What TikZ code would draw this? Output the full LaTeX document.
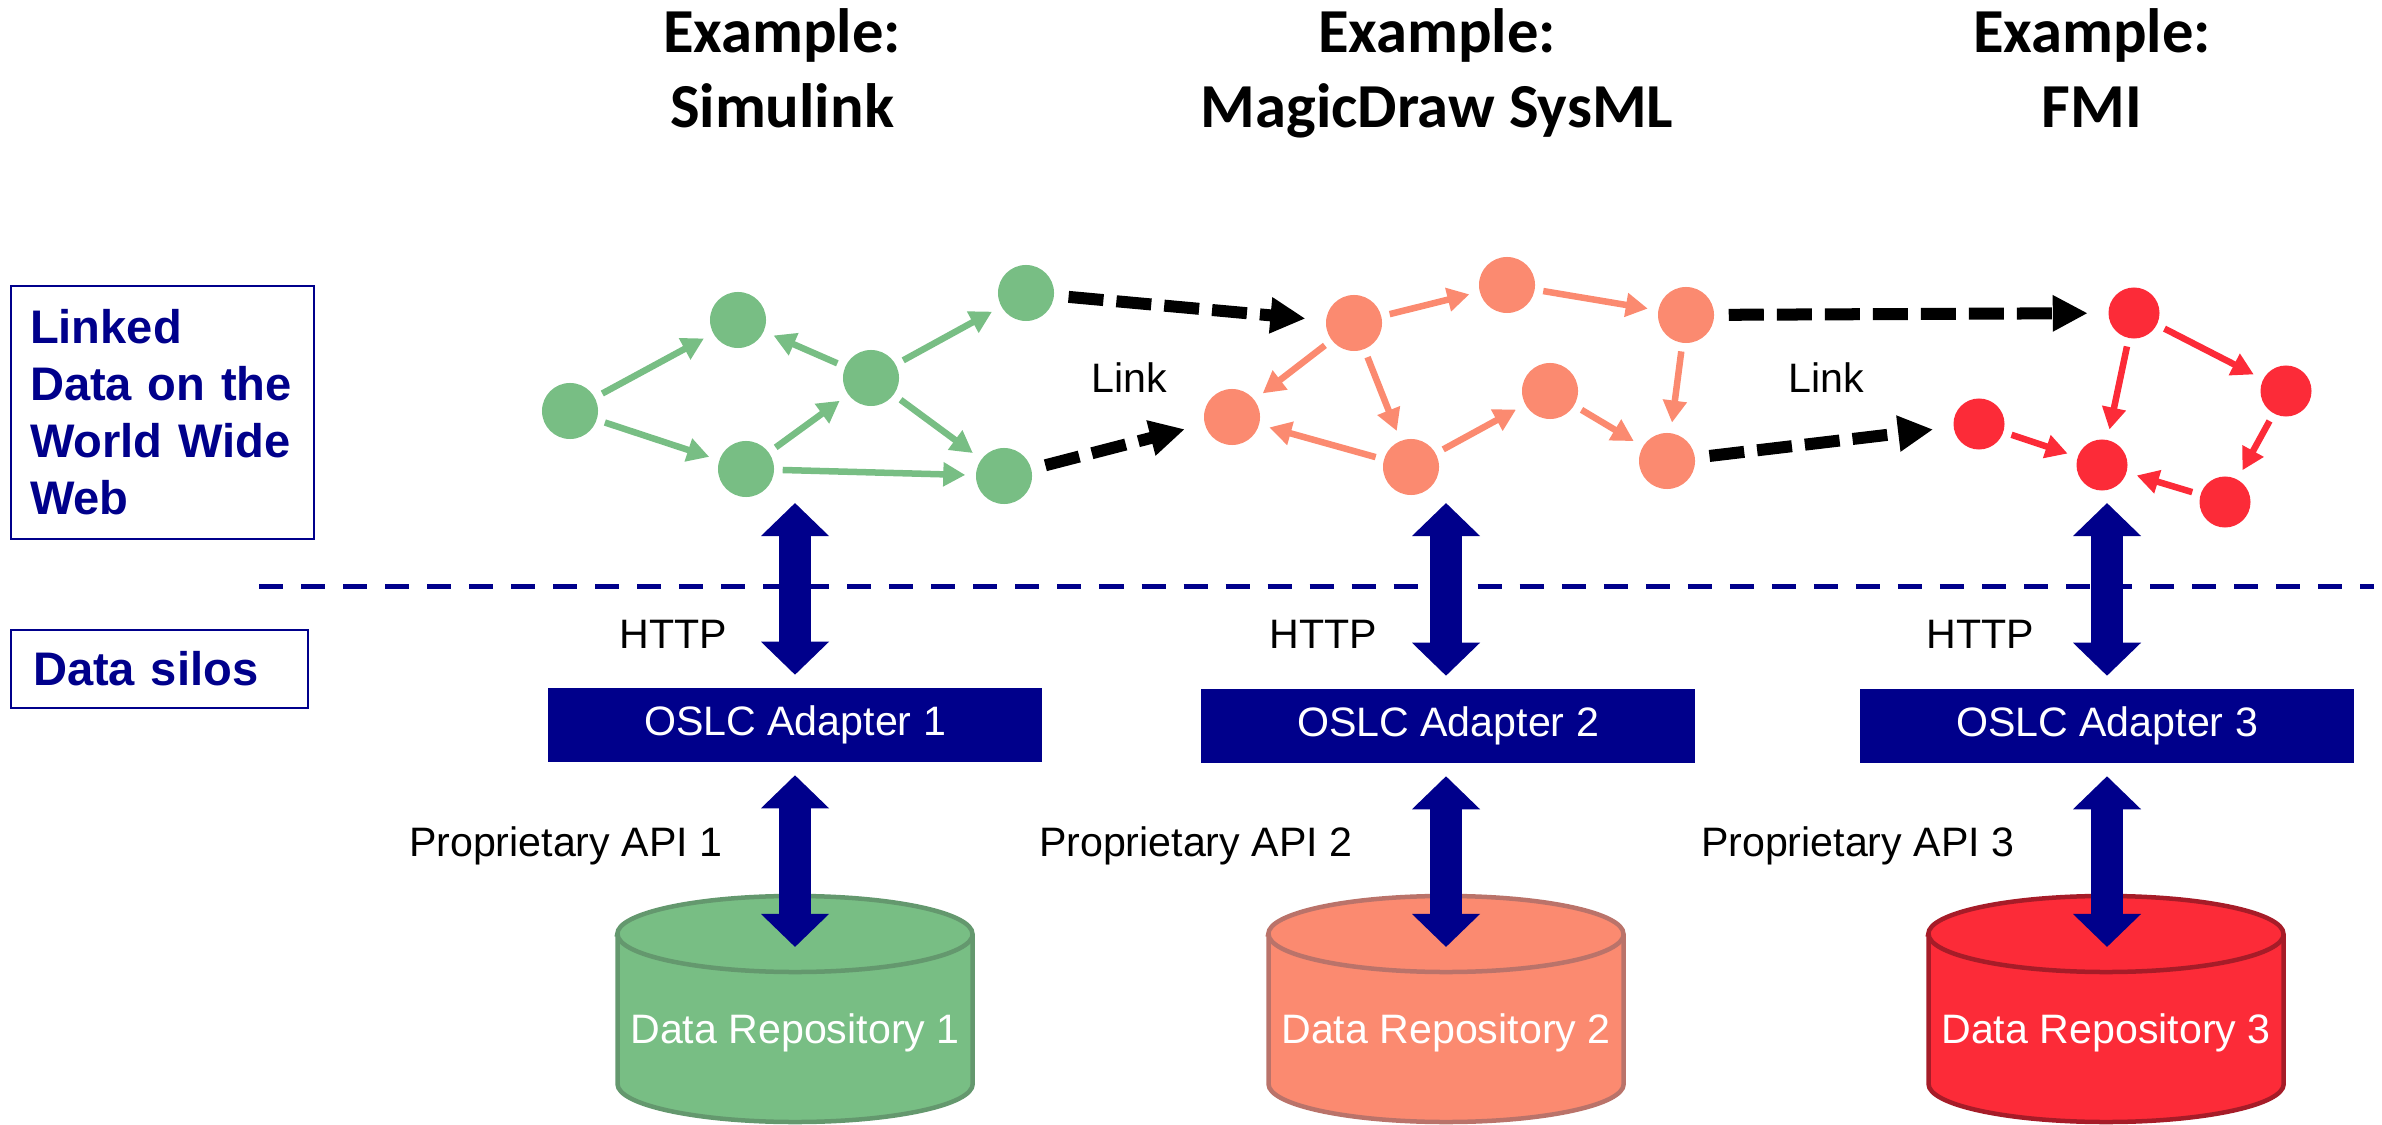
\documentclass[tikz,border=0pt]{standalone}
\usepackage{fontspec}
\setmainfont{Liberation Sans}
\newfontfamily\titlefont{Carlito}
\usetikzlibrary{arrows.meta}
\definecolor{navy}{RGB}{0,0,139}
\definecolor{gfill}{RGB}{120,190,132}
\definecolor{gline}{RGB}{100,152,110}
\definecolor{sfill}{RGB}{251,138,112}
\definecolor{sline}{RGB}{186,115,106}
\definecolor{rfill}{RGB}{252,43,56}
\definecolor{rline}{RGB}{166,28,40}
\begin{document}
\begin{tikzpicture}[x=0.01cm,y=-0.01cm,
  dot/.style={circle,inner sep=0pt,minimum size=0.56cm},
  gdot/.style={dot,fill=gfill},
  sdot/.style={dot,fill=sfill},
  rdot/.style={dot,fill=rfill,minimum size=0.51cm},
  small/.style={line width=0.065cm,-{Triangle[length=0.22cm,width=0.23cm]},shorten <=0.08cm,shorten >=0.10cm},
  garr/.style={small,draw=gfill,fill=gfill},
  sarr/.style={small,draw=sfill,fill=sfill},
  rarr/.style={small,draw=rfill,fill=rfill},
  linkarr/.style={line width=0.12cm,black,dash pattern=on 0.35cm off 0.13cm,
     -{Triangle[length=0.35cm,width=0.34cm]},shorten <=0.14cm,shorten >=0.2cm},
  dbl/.style={navy,line width=0.32cm,{Triangle[length=0.33cm,width=0.66cm]}-{Triangle[length=0.33cm,width=0.66cm]}},
  adapter/.style={fill=navy,text=white,minimum width=4.93cm,minimum height=0.73cm,inner sep=0pt,font=\fontsize{11.7}{14}\selectfont},
  lbl/.style={inner sep=0pt,font=\fontsize{11.7}{14}\selectfont},
  repotext/.style={lbl,text=white},
  title/.style={inner sep=0pt,align=center,font=\titlefont\bfseries\fontsize{17.8}{21.6}\selectfont},
  sidebox/.style={draw=navy,line width=0.02cm,text=navy,align=left,inner ysep=0pt,
     font=\bfseries\fontsize{13.4}{16.2}\selectfont},
  sep/.style={navy,line width=0.05cm,dash pattern=on 0.24cm off 0.18cm}
]
\useasboundingbox (0,0) rectangle (2382,1125);

% titles (anchor base = baseline of the last line)
\node[title,anchor=base] (t1) at (782,128) {Example:\\Simulink};
\node[title,anchor=base] (t2) at (1437,128) {Example:\\MagicDraw SysML};
\node[title,anchor=base] (t3) at (2092,128) {Example:\\FMI};

% side boxes
\node[sidebox,anchor=north west,minimum width=3.03cm,minimum height=2.53cm,text width=2.65cm,inner xsep=0.19cm] (lw) at (10,285)
  {Linked\\Data on the\\World Wide\\Web};
\node[sidebox,anchor=north west,minimum width=2.97cm,minimum height=0.78cm,text width=2.53cm,inner xsep=0.22cm] (ds) at (10,629)
  {Data silos};

% separator
\coordinate (sepL) at (259,587);
\coordinate (sepR) at (2374,587);
\draw[sep] (sepL) -- (sepR);

% green graph
\node[gdot] (g1) at (570,411) {};
\node[gdot] (g2) at (738,320) {};
\node[gdot] (g3) at (746,469) {};
\node[gdot] (g4) at (871,378) {};
\node[gdot] (g5) at (1026,293) {};
\node[gdot] (g6) at (1004,476) {};
\draw[garr] (g1) -- (g2);
\draw[garr] (g1) -- (g3);
\draw[garr] (g4) -- (g2);
\draw[garr] (g3) -- (g4);
\draw[garr] (g4) -- (g5);
\draw[garr] (g4) -- (g6);
\draw[garr] (g3) -- (g6);

% salmon graph
\node[sdot] (s1) at (1354,323) {};
\node[sdot] (s2) at (1507,285) {};
\node[sdot] (s3) at (1686,315) {};
\node[sdot] (s4) at (1232,417) {};
\node[sdot] (s5) at (1411,467) {};
\node[sdot] (s6) at (1550,391) {};
\node[sdot] (s7) at (1667,461) {};
\draw[sarr] (s1) -- (s2);
\draw[sarr] (s2) -- (s3);
\draw[sarr] (s1) -- (s4);
\draw[sarr] (s1) -- (s5);
\draw[sarr] (s5) -- (s4);
\draw[sarr] (s5) -- (s6);
\draw[sarr] (s6) -- (s7);
\draw[sarr] (s3) -- (s7);

% red graph
\node[rdot] (r1) at (2134,313) {};
\node[rdot] (r2) at (2286,391) {};
\node[rdot] (r3) at (1979,424) {};
\node[rdot] (r4) at (2102,465) {};
\node[rdot] (r5) at (2225,502) {};
\draw[rarr] (r1) -- (r2);
\draw[rarr] (r1) -- (r4);
\draw[rarr] (r2) -- (r5);
\draw[rarr] (r5) -- (r4);
\draw[rarr] (r3) -- (r4);

% links
\draw[linkarr] (g5) -- (s1);
\draw[linkarr] (g6) -- (s4);
\draw[linkarr] (s3) -- (r1);
\draw[linkarr] (s7) -- (r3);
\node[lbl,anchor=base west] (l1) at (1091,393) {Link};
\node[lbl,anchor=base west] (l2) at (1788,393) {Link};

% repositories
\filldraw[fill=gfill,draw=gline,line width=0.045cm] (617.5,934) -- (617.5,1084) arc[start angle=180,end angle=360,x radius=1.775cm,y radius=0.38cm] -- (972.5,934) arc[start angle=0,end angle=180,x radius=1.775cm,y radius=0.38cm] -- cycle;
\draw[gline,line width=0.045cm] (617.5,934) arc[start angle=180,end angle=360,x radius=1.775cm,y radius=0.38cm];
\filldraw[fill=sfill,draw=sline,line width=0.045cm] (1268.5,934) -- (1268.5,1084) arc[start angle=180,end angle=360,x radius=1.775cm,y radius=0.38cm] -- (1623.5,934) arc[start angle=0,end angle=180,x radius=1.775cm,y radius=0.38cm] -- cycle;
\draw[sline,line width=0.045cm] (1268.5,934) arc[start angle=180,end angle=360,x radius=1.775cm,y radius=0.38cm];
\filldraw[fill=rfill,draw=rline,line width=0.045cm] (1928.5,934) -- (1928.5,1084) arc[start angle=180,end angle=360,x radius=1.775cm,y radius=0.38cm] -- (2283.5,934) arc[start angle=0,end angle=180,x radius=1.775cm,y radius=0.38cm] -- cycle;
\draw[rline,line width=0.045cm] (1928.5,934) arc[start angle=180,end angle=360,x radius=1.775cm,y radius=0.38cm];
\node[repotext,anchor=base] (d1) at (795,1043) {Data Repository 1};
\node[repotext,anchor=base] (d2) at (1446,1043) {Data Repository 2};
\node[repotext,anchor=base] (d3) at (2106,1043) {Data Repository 3};

% adapters
\node[adapter] (a1) at (795,725) {OSLC Adapter 1};
\node[adapter] (a2) at (1448,726) {OSLC Adapter 2};
\node[adapter] (a3) at (2107,726) {OSLC Adapter 3};

% double arrows
\coordinate (h1) at (795,503);
\coordinate (h2) at (1446,503);
\coordinate (h3) at (2107,503);
\coordinate (c1) at (795,947);
\coordinate (c2) at (1446,947);
\coordinate (c3) at (2107,947);
\draw[dbl] (h1) -- ([yshift=0.13cm]a1.north);
\draw[dbl] (h2) -- ([yshift=0.13cm]a2.north -| h2);
\draw[dbl] (h3) -- ([yshift=0.13cm]a3.north);
\draw[dbl] ([yshift=-0.13cm]a1.south) -- (c1);
\draw[dbl] ([yshift=-0.13cm]a2.south -| c2) -- (c2);
\draw[dbl] ([yshift=-0.13cm]a3.south) -- (c3);

% labels
\node[lbl,anchor=base east] (http1) at (728,649) {HTTP};
\node[lbl,anchor=base east] (http2) at (1378,649) {HTTP};
\node[lbl,anchor=base east] (http3) at (2035,649) {HTTP};
\node[lbl,anchor=base east] (api1) at (723,856) {Proprietary API 1};
\node[lbl,anchor=base east] (api2) at (1353,856) {Proprietary API 2};
\node[lbl,anchor=base east] (api3) at (2015,856) {Proprietary API 3};
\end{tikzpicture}
\end{document}
